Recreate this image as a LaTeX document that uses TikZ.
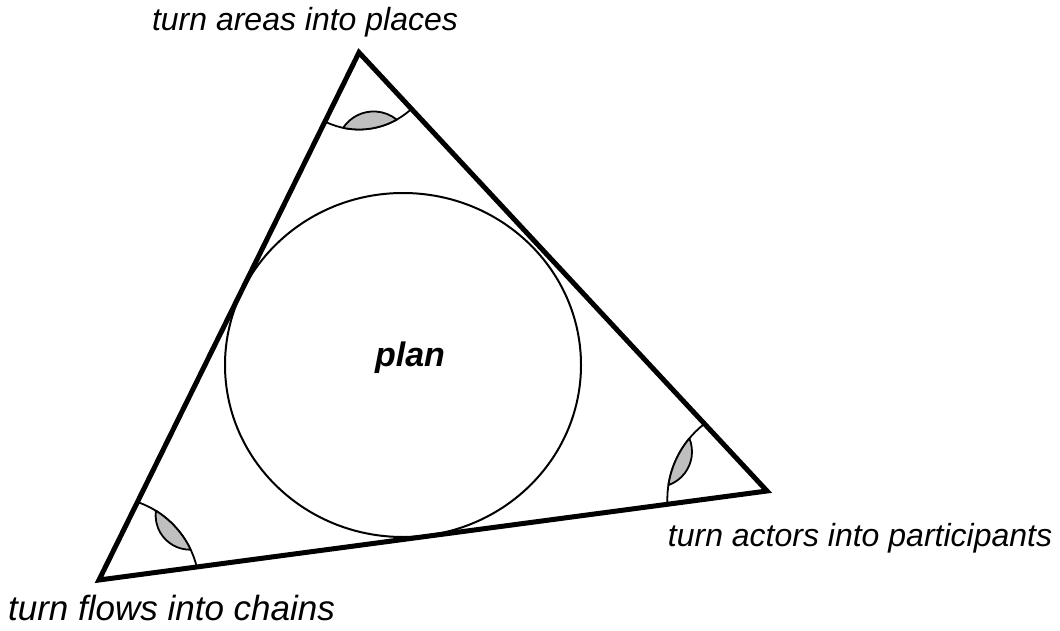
\documentclass[tikz,border=0pt]{standalone}
\usepackage{fontspec}
\setmainfont{Liberation Sans}
\usetikzlibrary{calc}
\begin{document}
\begin{tikzpicture}[x=1pt,y=-1pt,
  side/.style={line width=5pt,line join=miter},
  ring/.style={line width=2pt},
  anglearc/.style={line width=1.8pt},
  lens/.style={fill=black!25,draw=black,line width=1.8pt,line join=round},
  lbl/.style={inner sep=0pt,font=\fontsize{32}{38}\selectfont\itshape}]
\useasboundingbox[fill=white] (0,0) rectangle (1060,631);
\coordinate (A) at (359,52.5);
\coordinate (B) at (99,580);
\coordinate (C) at (767,491);
\coordinate (O) at (403,365);
\coordinate (Bc) at (107.5,589);
\coordinate (Cc) at (763,499.5);
% circle
\draw[ring] (O) ellipse[x radius=178,y radius=172];
% angle arcs
\draw[anglearc] ($(A)+(47:77)$) arc[start angle=47,end angle=116.2,radius=77];
\draw[anglearc] ($(Bc)+(-71:92)$) arc[start angle=-71,end angle=-13.5,radius=92];
\draw[anglearc] ($(Cc)+(177:95.7)$) arc[start angle=177,end angle=232,radius=95.7];
% lens start points
\coordinate (a1) at ($(A)+(60.6:77)$);
\coordinate (b1) at ($(Bc)+(-58.3:92)$);
\coordinate (c1) at ($(Cc)+(188.6:95.7)$);
% lenses
\draw[lens] (a1) arc[start angle=60.6,end angle=101.9,radius=77]
  arc[start angle=213.6,end angle=309,radius=36.7] -- cycle;
\draw[lens] (b1) arc[start angle=-58.3,end angle=-25.3,radius=92]
  arc[start angle=88.9,end angle=187.7,radius=34.4] -- cycle;
\draw[lens] (c1) arc[start angle=188.6,end angle=219.7,radius=95.7]
  arc[start angle=-22.2,end angle=70.5,radius=35.4] -- cycle;
% triangle
\draw[side] (A) -- (B) -- (C) -- cycle;
% labels
\node[lbl] (ta) at (305,22) {turn areas into places};
\node[lbl] (tc) at (860,538) {turn actors into participants};
\node[lbl,font=\fontsize{35}{41}\selectfont\itshape] (tb) at (171.5,608) {turn flows into chains};
\node[inner sep=0pt,font=\fontsize{34}{40}\selectfont\bfseries\itshape] (pl) at (410,358) {plan};
\end{tikzpicture}
\end{document}
